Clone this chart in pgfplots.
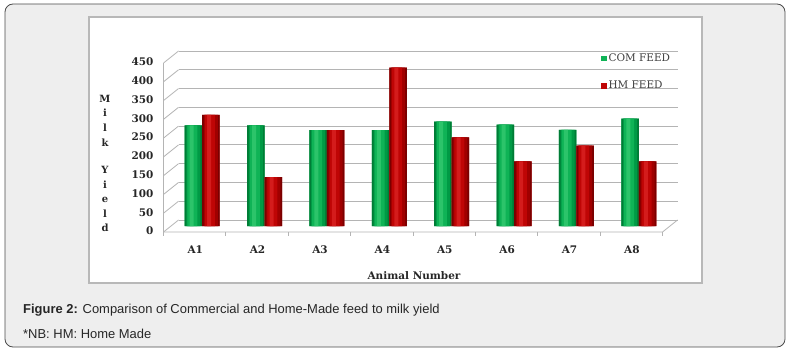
\documentclass[border=0pt]{standalone}
\usepackage{fontspec}
\setmainfont{DejaVu Serif}
\newfontfamily\capfont{Liberation Sans}
\usepackage{pgfplots}
\pgfplotsset{compat=1.18}
\definecolor{gA}{HTML}{007C36}
\definecolor{gB}{HTML}{009A45}
\definecolor{gC}{HTML}{0FB356}
\definecolor{gD}{HTML}{2CC46A}
\definecolor{rA}{HTML}{7A0000}
\definecolor{rB}{HTML}{A00000}
\definecolor{rC}{HTML}{BF0505}
\definecolor{rD}{HTML}{D41C1C}
\definecolor{bgc}{HTML}{EEEEEE}
\definecolor{gridc}{HTML}{B4B4B4}
\pgfplotstableread{
x com hm
0 268 296
1 268 130
2 255 255
3 255 422
4 278 236
5 270 172
6 256 214
7 286 172
}\milk

\begin{document}
\begin{tikzpicture}[x=1bp,y=1bp]
\path (0,0) rectangle (791,353);
\draw[draw=black!70, fill=bgc, rounded corners=8bp, line width=0.8bp] (5,6) rectangle (785,349);
\draw[draw=black!28, fill=white, line width=1.3bp] (89,70) rectangle (702,336);
\begin{axis}[
  at={(202.2bp,127bp)}, anchor=origin,
  scale only axis, width=499bp, height=169bp,
  xmin=-0.5, xmax=7.5, ymin=0, ymax=450,
  ybar=0pt,
  axis line style={draw=none},
  major tick style={draw=none},
  xtick={0,...,7}, xticklabels={A1,A2,A3,A4,A5,A6,A7,A8},
  ytick={0,50,...,450},
  /pgf/number format/assume math mode=true,
  ymajorgrids,
  major grid style={gridc, line width=0.8bp, xshift=7.5bp, yshift=6bp},
  clip=false,
  yticklabel style={font=\bfseries\fontsize{10.5}{12}\selectfont, text=black!85, xshift=-14bp, yshift=-5bp},
  xticklabel style={font=\bfseries\fontsize{10.5}{12}\selectfont, text=black!85, xshift=-7bp, yshift=-12bp},
  xlabel={Animal Number},
  xlabel style={at={(axis description cs:0.487,0)}, anchor=center, yshift=-50bp, font=\bfseries\fontsize{10.5}{12}\selectfont, text=black!85},
  legend style={draw=none, fill=none, at={(0.862,1.03)}, anchor=north west,
    font=\fontsize{10.5}{12}\selectfont, text=black!75, row sep=14bp, inner sep=0pt},
  legend cell align=left,
  legend image code/.code={\fill[#1, draw=none] (0bp,-2.6bp) rectangle (5.2bp,2.6bp);},
]
\pgfplotsinvokeforeach{0,50,100,150,200,250,300,350,400,450}{
  \draw[gridc, line width=0.8bp] ([xshift=-7.5bp,yshift=-6bp]axis cs:-0.5,#1) -- ([xshift=7.5bp,yshift=6bp]axis cs:-0.5,#1);
}
\draw[gridc, line width=0.8bp] ([xshift=-7.5bp,yshift=-6bp]axis cs:-0.5,0) -- ([xshift=-7.5bp,yshift=-6bp]axis cs:-0.5,450);
\draw[gridc, line width=0.8bp] ([xshift=-7.5bp,yshift=-6bp]axis cs:-0.5,0) -- ([xshift=-7.5bp,yshift=-6bp]axis cs:7.5,0) -- ([xshift=7.5bp,yshift=6bp]axis cs:7.5,0);
\pgfplotsinvokeforeach{-0.5,0.5,1.5,2.5,3.5,4.5,5.5,6.5,7.5}{
  \draw[gridc, line width=0.8bp] ([xshift=-7.5bp,yshift=-6bp]axis cs:#1,0) -- ([xshift=-7.5bp,yshift=-10bp]axis cs:#1,0);
}
% COM FEED (cylinder look by layered bars)
\addplot[draw=none, fill=gC, bar width=17.5bp, bar shift=-8.75bp] table[x=x, y=com] {\milk};
\addlegendentry{COM FEED}
\addplot[forget plot, draw=none, fill=gA, bar width=17.5bp, bar shift=-8.75bp] table[x=x, y=com] {\milk};
\addplot[forget plot, draw=none, fill=gB, bar width=14bp, bar shift=-8.75bp] table[x=x, y=com] {\milk};
\addplot[forget plot, draw=none, fill=gC, bar width=10bp, bar shift=-9.75bp] table[x=x, y=com] {\milk};
\addplot[forget plot, draw=none, fill=gD, bar width=4bp, bar shift=-10.5bp] table[x=x, y=com] {\milk};
% HM FEED
\addplot[draw=none, fill=rC, bar width=17.5bp, bar shift=8.75bp] table[x=x, y=hm] {\milk};
\addlegendentry{HM FEED}
\addplot[forget plot, draw=none, fill=rA, bar width=17.5bp, bar shift=8.75bp] table[x=x, y=hm] {\milk};
\addplot[forget plot, draw=none, fill=rB, bar width=14bp, bar shift=8.75bp] table[x=x, y=hm] {\milk};
\addplot[forget plot, draw=none, fill=rC, bar width=10bp, bar shift=7.75bp] table[x=x, y=hm] {\milk};
\addplot[forget plot, draw=none, fill=rD, bar width=4bp, bar shift=7bp] table[x=x, y=hm] {\milk};
\end{axis}
\node[align=center, font=\bfseries\fontsize{10}{14.6}\selectfont, text=black!85] at (105,189.5)
  {M\\i\\l\\k\\[13bp]Y\\i\\e\\l\\d};
\node[anchor=west, inner sep=0pt, font=\capfont\fontsize{13}{15}\selectfont, text=black!85] at (23,43)
  {\textbf{Figure 2:} Comparison of Commercial and Home-Made feed to milk yield};
\node[anchor=west, inner sep=0pt, font=\capfont\fontsize{13}{15}\selectfont, text=black!85] at (23,19)
  {*NB: HM: Home Made};
\end{tikzpicture}
\end{document}
